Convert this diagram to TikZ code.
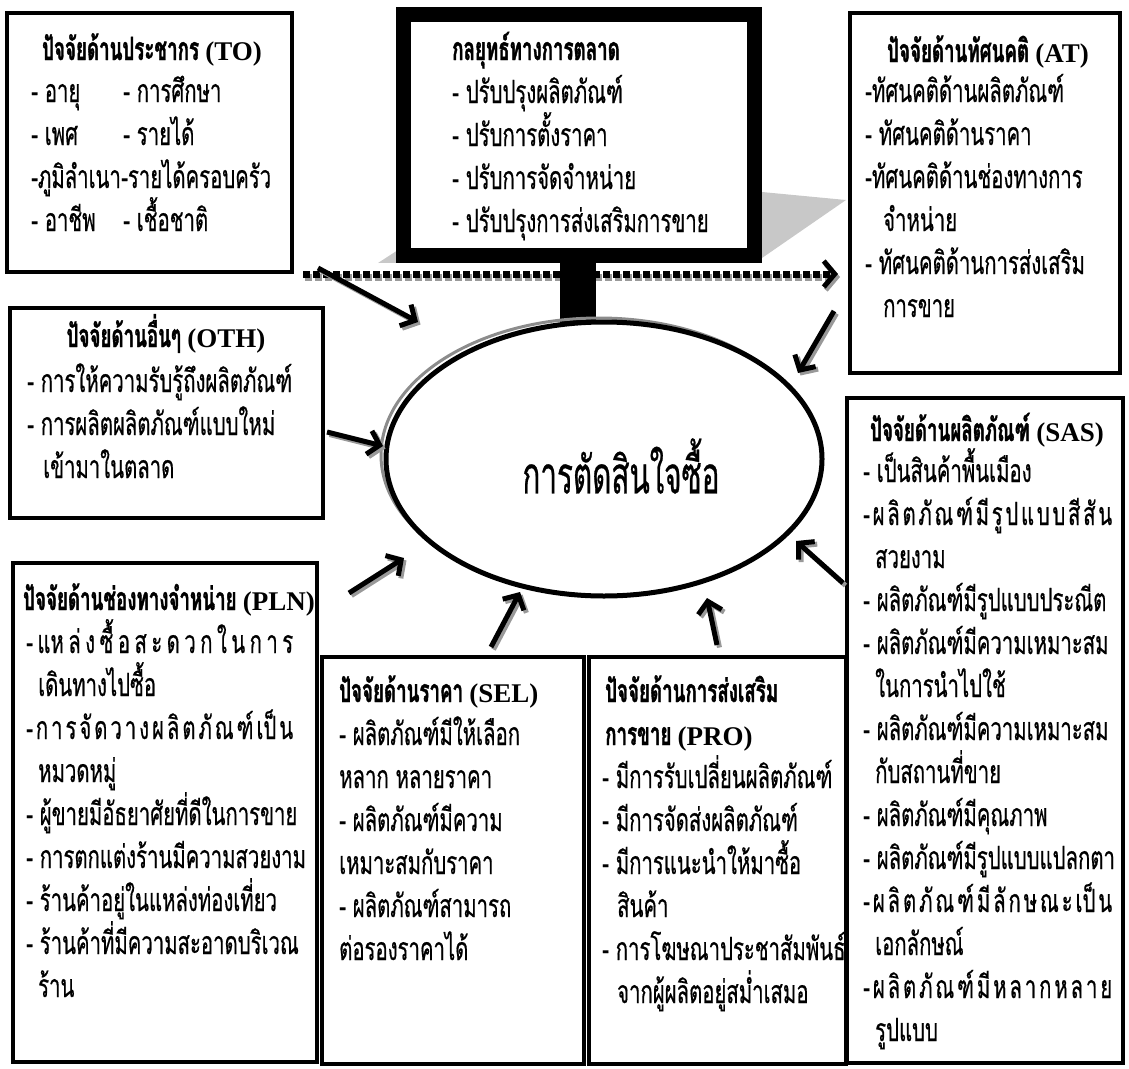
\documentclass[tikz,border=0pt]{standalone}
\usepackage{fontspec}
\usetikzlibrary{arrows.meta,shapes.geometric}
\newfontfamily\thai[Script=Thai,FakeStretch=0.635,UprightFeatures={FakeBold=0.5}]{Loma}
\newfontfamily\thaittl[Script=Thai,FakeStretch=0.585,BoldFeatures={FakeBold=1.1}]{Loma}
\newfontfamily\thaibig[Script=Thai,FakeStretch=0.57,UprightFeatures={FakeBold=0.5}]{Loma}
\newfontfamily\latn{Liberation Serif}
\newcommand\lt[1]{{\latn\fontsize{27}{43}\selectfont #1}}
\definecolor{shgray}{HTML}{C8C8C8}
\newcommand\tlines[2][43pt]{\vtop{\baselineskip=#1\lineskiplimit=-200pt\lineskip=0pt\halign{##\hfil\cr#2\crcr}}}
\newcommand\sarr[2]{\draw[arrsh] ([xshift=2.5pt,yshift=-2.5pt]#1) -- ([xshift=2.5pt,yshift=-2.5pt]#2);\draw[arr] (#1) -- (#2);}
\tikzset{
 box/.style={draw, line width=4.5pt, fill=white, inner sep=0pt, outer sep=0pt},
 txt/.style={inner sep=0pt, anchor=base west, font=\thai\fontsize{32}{43}\selectfont},
 ttl/.style={inner sep=0pt, anchor=base, font=\thaittl\bfseries\fontsize{32}{43}\selectfont},
 ttlw/.style={ttl, anchor=base west},
 arr/.style={line width=5pt, -{Straight Barb[length=11pt,width=24pt]}},
 arrsh/.style={arr, draw=black!40},
 dotarr/.style={line width=7pt, dash pattern=on 7pt off 3pt, -{Straight Barb[length=11pt,width=26pt,line width=5pt]}},
 dotsh/.style={dotarr, draw=black!40},
}
\begin{document}
\begin{tikzpicture}[x=1pt,y=-1pt]
\useasboundingbox (0,0) rectangle (1129,1068);
% perspective shadow of the strategy box
\fill[shgray] (378,263) -- (398,250) -- (762,192) -- (846,200) -- (762,258) -- cycle;
% dotted arrow
\coordinate (dS) at (303,274);
\coordinate (dE) at (838,274);
\draw[dotsh] ([xshift=2pt,yshift=-3pt]dS) -- ([xshift=2pt,yshift=-3pt]dE);
\draw[dotarr] (dS) -- (dE);
% stem
\fill (560,255) rectangle (596,330);
% boxes
\node[box, line width=15pt, minimum width=351pt, minimum height=241pt] (ST) at (578.5,134.5) {};
\node[box, minimum width=285pt, minimum height=259pt] (TO) at (149.5,142.5) {};
\node[box, minimum width=270pt, minimum height=360pt] (AT) at (985,193) {};
\node[box, minimum width=313pt, minimum height=210pt] (OTH) at (166.5,413) {};
\node[box, minimum width=304pt, minimum height=499pt] (PLN) at (165,812.5) {};
\node[box, minimum width=262pt, minimum height=407pt] (SEL) at (453,860.5) {};
\node[box, minimum width=257pt, minimum height=407pt] (PRO) at (717.5,860.5) {};
\node[box, minimum width=276pt, minimum height=665pt] (SAS) at (985,730.5) {};
% decision ellipse
\draw[black!45, line width=3pt] (599,455) ellipse [x radius=218, y radius=137];
\node[ellipse, draw, line width=5pt, fill=white, inner sep=0pt, minimum width=436pt, minimum height=274pt] (DEC) at (604,459) {};
\node[inner sep=0pt, font=\thaibig\fontsize{52}{56}\selectfont] (DECT) at (621,466) {การตัดสินใจซื้อ};
% texts
\node[ttl] (toT) at (152,60) {ปัจจัยด้านประชากร \lt{(TO)}};
\node[txt] (toA) at (31,102) {\tlines{- อายุ\cr - เพศ\cr -ภูมิลำเนา\cr - อาชีพ}};
\node[txt] (toB) at (123,102) {\tlines{- การศึกษา\cr - รายได้\cr\hspace*{-2pt}-รายได้ครอบครัว\cr - เชื้อชาติ}};
\node[ttlw] (stT) at (452,60) {กลยุทธ์ทางการตลาด};
\node[txt] (stI) at (452,103) {\tlines{- ปรับปรุงผลิตภัณฑ์\cr - ปรับการตั้งราคา\cr - ปรับการจัดจำหน่าย\cr - ปรับปรุงการส่งเสริมการขาย}};
\node[ttl] (atT) at (988,62) {ปัจจัยด้านทัศนคติ \lt{(AT)}};
\node[txt] (atI) at (865,102) {\tlines{-ทัศนคติด้านผลิตภัณฑ์\cr - ทัศนคติด้านราคา\cr -ทัศนคติด้านช่องทางการ\cr\hspace*{18pt}จำหน่าย\cr - ทัศนคติด้านการส่งเสริม\cr\hspace*{18pt}การขาย}};
\node[ttl] (othT) at (166,347) {ปัจจัยด้านอื่นๆ \lt{(OTH)}};
\node[txt] (othI) at (27,392) {\tlines{- การให้ความรับรู้ถึงผลิตภัณฑ์\cr - การผลิตผลิตภัณฑ์แบบใหม่\cr\hspace*{16pt}เข้ามาในตลาด}};
\node[ttl] (plnT) at (169,610) {ปัจจัยด้านช่องทางจำหน่าย \lt{(PLN)}};
\node[txt] (plnI) at (26,653) {\tlines{\makebox[267pt][s]{-\hfill แห\hfill ล่\hfill ง\hfill ซื้\hfill อ\hfill ส\hfill ะ\hfill ด\hfill ว\hfill ก\hfill ใ\hfill น\hfill ก\hfill า\hfill ร}\cr\hspace*{12pt}เดินทางไปซื้อ\cr\makebox[267pt][s]{-\hfill ก\hfill า\hfill ร\hfill จั\hfill ด\hfill ว\hfill า\hfill ง\hfill ผ\hfill ลิ\hfill ต\hfill ภั\hfill ณ\hfill ฑ์\hfill เป็\hfill น}\cr\hspace*{12pt}หมวดหมู่\cr - ผู้ขายมีอัธยาศัยที่ดีในการขาย\cr - การตกแต่งร้านมีความสวยงาม\cr - ร้านค้าอยู่ในแหล่งท่องเที่ยว\cr - ร้านค้าที่มีความสะอาดบริเวณ\cr\hspace*{12pt}ร้าน}};
\node[ttlw] (selT) at (339,702) {ปัจจัยด้านราคา \lt{(SEL)}};
\node[txt] (selI) at (339,745) {\tlines{- ผลิตภัณฑ์มีให้เลือก\cr หลาก หลายราคา\cr - ผลิตภัณฑ์มีความ\cr เหมาะสมกับราคา\cr - ผลิตภัณฑ์สามารถ\cr ต่อรองราคาได้}};
\node[ttlw] (proT) at (605,702) {\tlines{ปัจจัยด้านการส่งเสริม\cr การขาย \lt{(PRO)}}};
\node[txt] (proI) at (602,788) {\tlines{- มีการรับเปลี่ยนผลิตภัณฑ์\cr - มีการจัดส่งผลิตภัณฑ์\cr - มีการแนะนำให้มาซื้อ\cr\hspace*{15pt}สินค้า\cr - การโฆษณาประชาสัมพันธ์\cr\hspace*{15pt}จากผู้ผลิตอยู่สม่ำเสมอ}};
\node[ttl] (sasT) at (987,441) {ปัจจัยด้านผลิตภัณฑ์ \lt{(SAS)}};
\node[txt] (sasI) at (863,482) {\tlines{- เป็นสินค้าพื้นเมือง\cr\makebox[249pt][s]{-\hfill ผ\hfill ลิ\hfill ต\hfill ภั\hfill ณ\hfill ฑ์\hfill มี\hfill รู\hfill ป\hfill แ\hfill บ\hfill บ\hfill สี\hfill สั\hfill น}\cr\hspace*{12pt}สวยงาม\cr - ผลิตภัณฑ์มีรูปแบบประณีต\cr - ผลิตภัณฑ์มีความเหมาะสม\cr\hspace*{12pt}ในการนำไปใช้\cr - ผลิตภัณฑ์มีความเหมาะสม\cr\hspace*{12pt}กับสถานที่ขาย\cr - ผลิตภัณฑ์มีคุณภาพ\cr - ผลิตภัณฑ์มีรูปแบบแปลกตา\cr\makebox[249pt][s]{-\hfill ผ\hfill ลิ\hfill ต\hfill ภั\hfill ณ\hfill ฑ์\hfill มี\hfill ลั\hfill ก\hfill ษ\hfill ณ\hfill ะ\hfill เป็\hfill น}\cr\hspace*{12pt}เอกลักษณ์\cr\makebox[249pt][s]{-\hfill ผ\hfill ลิ\hfill ต\hfill ภั\hfill ณ\hfill ฑ์\hfill มี\hfill ห\hfill ล\hfill า\hfill ก\hfill ห\hfill ล\hfill า\hfill ย}\cr\hspace*{12pt}รูปแบบ}};
% arrows
\coordinate (toS) at (318,268);  \coordinate (toE) at (418,322);
\coordinate (othS) at (327,432); \coordinate (othE) at (383,446);
\coordinate (plnS) at (349,593); \coordinate (plnE) at (404,558);
\coordinate (selS) at (491,647); \coordinate (selE) at (520,592);
\coordinate (proS) at (717,645); \coordinate (proE) at (707,598);
\coordinate (sasS) at (843,583); \coordinate (sasE) at (796,541);
\coordinate (atS) at (834,311);  \coordinate (atE) at (798,373);
\sarr{toS}{toE}
\sarr{othS}{othE}
\sarr{plnS}{plnE}
\sarr{selS}{selE}
\sarr{proS}{proE}
\sarr{sasS}{sasE}
\sarr{atS}{atE}
\end{tikzpicture}
\end{document}
